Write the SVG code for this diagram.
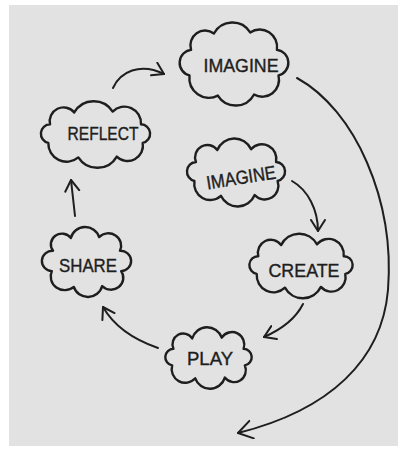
<svg xmlns="http://www.w3.org/2000/svg" width="401" height="449" viewBox="0 0 401 449">
  <style>
    .cloud { fill: none; stroke: #1e1e1e; stroke-width: 2.4; stroke-linejoin: round; vector-effect: non-scaling-stroke; }
    .label { font-family: "Liberation Sans", Arial, sans-serif; font-size: 19px; fill: #1e1e1e; text-anchor: middle; stroke: #1e1e1e; stroke-width: 0.4; }
    .link { fill: none; stroke: #1e1e1e; stroke-width: 2; stroke-linecap: round; }
  </style>
  <defs>
    <marker id="head" markerUnits="userSpaceOnUse" markerWidth="16" markerHeight="18" refX="12" refY="8" orient="auto">
      <path d="M1,1 L12,8 L1,15" fill="none" stroke="#1e1e1e" stroke-width="2" stroke-linecap="round" stroke-linejoin="round"/>
    </marker>
    <marker id="headBig" markerUnits="userSpaceOnUse" markerWidth="20" markerHeight="22" refX="15" refY="10" orient="auto">
      <path d="M1,1 L15,10 L1,19" fill="none" stroke="#1e1e1e" stroke-width="2" stroke-linecap="round" stroke-linejoin="round"/>
    </marker>
  </defs>

  <rect x="0" y="0" width="401" height="449" fill="#ffffff"/>
  <rect x="9" y="5" width="389" height="441" fill="#e2e2e2"/>

  <g id="connectors">
    <path class="link" d="M113,88 C120,72 140,62 164,74" marker-end="url(#head)"/>
    <path class="link" d="M75,216 L71,180" marker-end="url(#head)"/>
    <path class="link" d="M292,181 C308,190 318,210 318,231" marker-end="url(#head)"/>
    <path class="link" d="M303,304 C295,320 280,330 264,337" marker-end="url(#head)"/>
    <path class="link" d="M158,348 C135,340 115,328 103,307" marker-end="url(#head)"/>
    <path class="link" d="M297,78 C355,110 395,200 388,290 C382,360 330,410 238,433" marker-end="url(#headBig)"/>
  </g>

  <!-- each cloud outline is stretched slightly about its own centre -->
  <g id="imagine-top">
    <path class="cloud" transform="translate(234 64) scale(1.03 1.05) translate(-234 -64)" d="M190.8,74.9 A12.4,12.4 0 0 1 192.3,50.5 A14.2,14.2 0 0 1 214.5,35 A20.5,20.5 0 0 1 249.7,33.9 A16.9,16.9 0 0 1 275.7,50.5 A12.4,12.4 0 0 1 277.2,74.9 A16.2,16.2 0 0 1 253.5,93 A20.5,20.5 0 0 1 218.3,94.1 A19,19 0 0 1 190.8,74.9 Z"/>
    <text class="label" x="241" y="72" textLength="75" lengthAdjust="spacingAndGlyphs">IMAGINE</text>
  </g>

  <g id="reflect">
    <path class="cloud" transform="translate(95.5 134.5) scale(1.08 1.08) translate(-95.5 -134.5)" d="M51.8,142.2 A8.7,8.7 0 0 1 53.4,125 A12.8,12.8 0 0 1 75.8,114.1 A20.8,20.8 0 0 1 111.4,113.3 A15.3,15.3 0 0 1 137.6,125 A8.7,8.7 0 0 1 139.2,142.2 A14.2,14.2 0 0 1 115.2,154.9 A20.8,20.8 0 0 1 79.6,155.7 A16.9,16.9 0 0 1 51.8,142.2 Z"/>
    <text class="label" x="103" y="140" textLength="71" lengthAdjust="spacingAndGlyphs">REFLECT</text>
  </g>

  <g id="imagine-inner">
    <path class="cloud" transform="translate(236 172.5) scale(1.08 1.1) translate(-236 -172.5)" d="M197.5,180.2 A8.7,8.7 0 0 1 198.9,163 A11.4,11.4 0 0 1 218.7,152.1 A17.2,17.2 0 0 1 250,151.3 A13.4,13.4 0 0 1 273.1,163 A8.7,8.7 0 0 1 274.5,180.2 A12.6,12.6 0 0 1 253.3,192.9 A17.2,17.2 0 0 1 222,193.7 A14.8,14.8 0 0 1 197.5,180.2 Z"/>
    <text class="label" x="241" y="184" textLength="70" lengthAdjust="spacingAndGlyphs" transform="rotate(-9 241 177)">IMAGINE</text>
  </g>

  <g id="share">
    <path class="cloud" transform="translate(86.5 262) scale(1.1 1.06) translate(-86.5 -262)" d="M55,270.6 A9.6,9.6 0 0 1 56.1,251.4 A10.1,10.1 0 0 1 72.3,239.3 A13.3,13.3 0 0 1 98,238.5 A11.6,11.6 0 0 1 116.9,251.4 A9.6,9.6 0 0 1 118,270.6 A11.2,11.2 0 0 1 100.7,284.7 A13.3,13.3 0 0 1 75,285.5 A12.8,12.8 0 0 1 55,270.6 Z"/>
    <text class="label" x="88" y="272" textLength="58" lengthAdjust="spacingAndGlyphs">SHARE</text>
  </g>

  <g id="create">
    <path class="cloud" transform="translate(301 266) scale(1.07 1.1) translate(-301 -266)" d="M259.6,273.2 A8.1,8.1 0 0 1 261.1,257.1 A12,12 0 0 1 282.4,247 A19.1,19.1 0 0 1 316,246.3 A14.2,14.2 0 0 1 340.9,257.1 A8.1,8.1 0 0 1 342.4,273.2 A13.3,13.3 0 0 1 319.6,285 A19.1,19.1 0 0 1 286,285.7 A15.7,15.7 0 0 1 259.6,273.2 Z"/>
    <text class="label" x="304" y="277" textLength="71" lengthAdjust="spacingAndGlyphs">CREATE</text>
  </g>

  <g id="play">
    <path class="cloud" transform="translate(208.5 358) scale(1.06 1.08) translate(-208.5 -358)" d="M174.2,364.8 A7.7,7.7 0 0 1 175.4,349.5 A10.1,10.1 0 0 1 193.1,339.9 A14.7,14.7 0 0 1 221,339.2 A11.6,11.6 0 0 1 241.6,349.5 A7.7,7.7 0 0 1 242.8,364.8 A11.1,11.1 0 0 1 223.9,376.1 A14.7,14.7 0 0 1 196,376.8 A12.8,12.8 0 0 1 174.2,364.8 Z"/>
    <text class="label" x="210" y="365" textLength="46" lengthAdjust="spacingAndGlyphs">PLAY</text>
  </g>
</svg>
